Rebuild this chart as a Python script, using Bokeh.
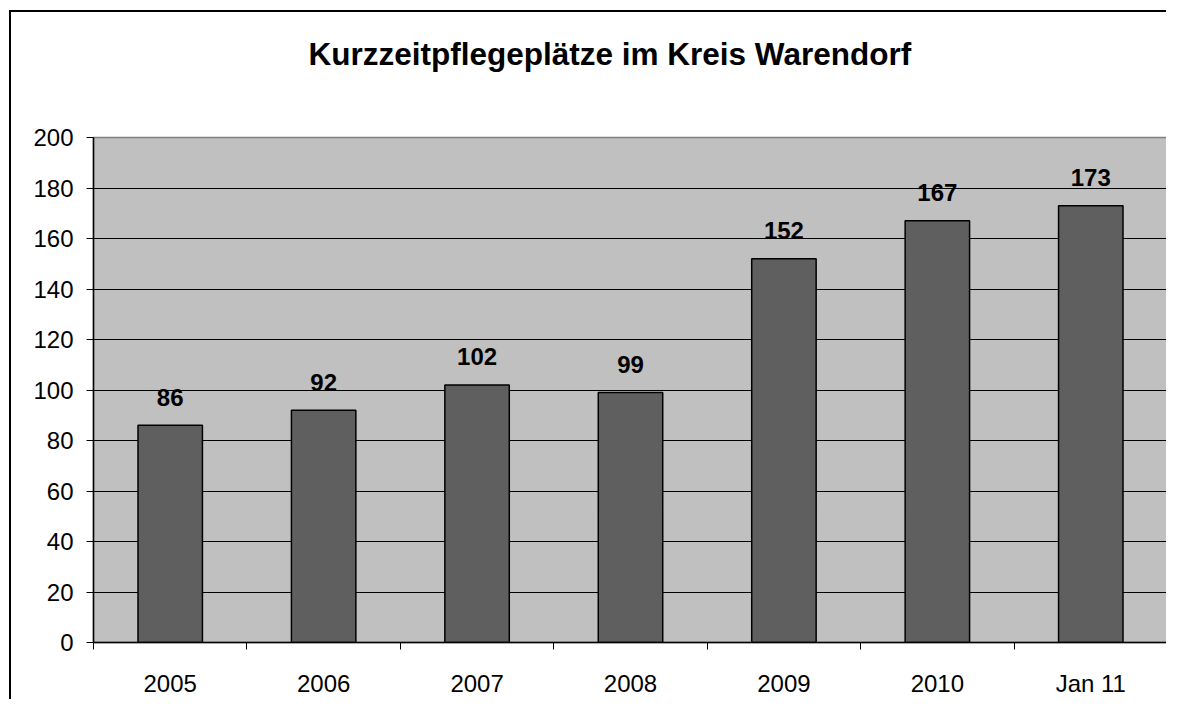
from bokeh.plotting import figure
from bokeh.models import ColumnDataSource, FixedTicker, Range1d, Title
from bokeh.core.properties import value
from bokeh.embed import file_html
from bokeh.resources import INLINE

categories = ["2005", "2006", "2007", "2008", "2009", "2010", "Jan 11"]
values = [86, 92, 102, 99, 152, 167, 173]
y_ticks = [0, 20, 40, 60, 80, 100, 120, 140, 160, 180, 200]

FONT = "Liberation Sans"
n = len(categories)
centers = [i + 0.5 for i in range(n)]
src = ColumnDataSource(dict(x=centers, top=values, label=[str(v) for v in values]))

p = figure(width=1157, height=689, output_backend="svg", toolbar_location=None,
           x_range=Range1d(0, n), y_range=Range1d(0, 200),
           min_border_left=82, min_border_right=1, min_border_top=125, min_border_bottom=59)

p.background_fill_color = "#C0C0C0"
p.border_fill_color = "white"
p.outline_line_color = "#808080"
p.outline_line_width = 1.5
p.styles = {"margin-left": "9px", "margin-top": "10px",
            "border-left": "2px solid black", "border-top": "2px solid black"}

spacer = Title(text=" ", text_font_size="53px", standoff=0)
p.add_layout(spacer, "above")
t = Title(text="Kurzzeitpflegeplätze im Kreis Warendorf", align="left", offset=215,
          text_font=FONT, text_font_size="31.5px", text_font_style="bold", text_color="black")
p.add_layout(t, "above")

p.vbar(x="x", top="top", width=0.42, source=src, fill_color="#5F5F5F",
       line_color="black", line_width=1.5)
p.text(x="x", y="top", text="label", source=src, text_align="center", text_baseline="alphabetic",
       y_offset=-28, text_font=value(FONT), text_font_size="24px", text_font_style="bold",
       text_color="black")

# x axis
xa = p.xaxis[0]
xa.ticker = FixedTicker(ticks=centers, minor_ticks=list(range(n + 1)))
xa.major_label_overrides = {c: lab for c, lab in zip(centers, categories)}
xa.major_tick_out = 0
xa.major_tick_in = 0
xa.minor_tick_out = 7
xa.minor_tick_in = 0
xa.minor_tick_line_color = "black"
xa.axis_line_color = "black"
xa.axis_line_width = 1.5
xa.major_label_standoff = 20
xa.major_label_text_font = FONT
xa.major_label_text_font_size = "24px"
xa.major_label_text_color = "black"

ya = p.yaxis[0]
ya.ticker = FixedTicker(ticks=y_ticks, minor_ticks=[])
ya.major_tick_out = 7
ya.major_tick_in = 0
ya.major_tick_line_color = "black"
ya.axis_line_color = "black"
ya.axis_line_width = 1.5
ya.major_label_standoff = 13
ya.major_label_text_font = FONT
ya.major_label_text_font_size = "24px"
ya.major_label_text_color = "black"

p.xgrid.visible = False
p.ygrid.ticker = FixedTicker(ticks=y_ticks[1:-1])
p.ygrid.grid_line_color = "black"
p.ygrid.grid_line_width = 1

open("out.html", "w").write(file_html(p, INLINE))
